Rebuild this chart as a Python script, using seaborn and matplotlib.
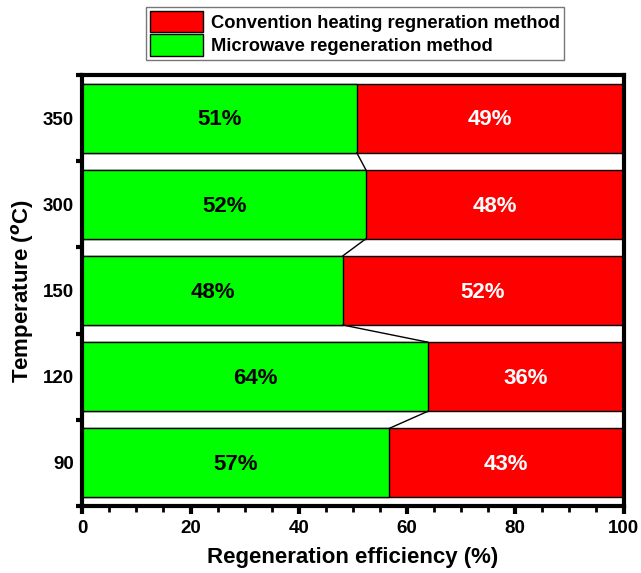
import matplotlib
matplotlib.use("Agg")
import matplotlib.pyplot as plt
import seaborn as sns
import pandas as pd
from matplotlib.patches import Patch
from matplotlib.ticker import MultipleLocator, FixedLocator

# ---- data ----
temperatures = ["350", "300", "150", "120", "90"]
microwave = [50.7, 52.4, 48.1, 63.9, 56.7]
convention = [100 - v for v in microwave]
totals = [100, 100, 100, 100, 100]

sns.set_theme(style="white")
plt.rcParams["font.family"] = ["Liberation Sans", "DejaVu Sans"]
plt.rcParams["font.weight"] = "bold"
plt.rcParams["text.color"] = "black"
plt.rcParams["axes.labelcolor"] = "black"
plt.rcParams["xtick.color"] = "black"
plt.rcParams["ytick.color"] = "black"
plt.rcParams["mathtext.fontset"] = "custom"
plt.rcParams["mathtext.rm"] = "Liberation Sans:bold"
plt.rcParams["mathtext.bf"] = "Liberation Sans:bold"

df = pd.DataFrame({"Temperature": temperatures, "Microwave": microwave,
                   "Convention": convention, "Total": totals})

fig = plt.figure(figsize=(6.41, 5.73), dpi=100)
ax = fig.add_axes([82.3 / 641, 1 - 506 / 573, (623.5 - 82.3) / 641, (506 - 75) / 573])

red = "#ff0000"
green = "#00ff00"
sns.barplot(data=df, x="Total", y="Temperature", order=temperatures, orient="h",
            color=red, saturation=1, edgecolor="black", linewidth=1.0, width=0.8, ax=ax)
sns.barplot(data=df, x="Microwave", y="Temperature", order=temperatures, orient="h",
            color=green, saturation=1, edgecolor="black", linewidth=1.0, width=0.8, ax=ax)

# connecting lines between stacked boundaries
for i in range(len(temperatures) - 1):
    ax.plot([microwave[i], microwave[i + 1]], [i + 0.4, i + 0.6],
            color="black", lw=1.0, zorder=3)

# value labels
for i, (g, r) in enumerate(zip(microwave, convention)):
    ax.text(g / 2, i + 0.02, f"{round(g)}%", ha="center", va="center",
            fontsize=16, fontweight="bold", color="black")
    ax.text(g + r / 2, i + 0.02, f"{round(r)}%", ha="center", va="center",
            fontsize=16, fontweight="bold", color="white")

ax.set_xlim(0, 100)
ax.set_ylim(len(temperatures) - 0.5, -0.5)

ax.xaxis.set_major_locator(MultipleLocator(20))
ax.xaxis.set_minor_locator(MultipleLocator(5))
ax.tick_params(axis="x", which="major", direction="out", length=6, width=3,
               labelsize=13.5, pad=4, bottom=True)
ax.tick_params(axis="x", which="minor", direction="out", length=4, width=2, bottom=True)

# y: labels at centres (no tick), tick marks at boundaries
ax.yaxis.set_major_locator(FixedLocator([i - 0.5 for i in range(len(temperatures) + 1)]))
ax.yaxis.set_minor_locator(FixedLocator(list(range(len(temperatures)))))
ax.set_yticklabels([""] * (len(temperatures) + 1))
ax.set_yticklabels(temperatures, minor=True)
ax.tick_params(axis="y", which="major", direction="out", length=4, width=3, left=True)
ax.tick_params(axis="y", which="minor", length=0, labelsize=13.5, pad=6)

for lab in ax.get_xticklabels() + ax.get_yticklabels(minor=True):
    lab.set_fontweight("bold")

for s in ax.spines.values():
    s.set_linewidth(3)
    s.set_color("black")

ax.set_xlabel("Regeneration efficiency (%)", fontsize=16, fontweight="bold", labelpad=7)
ax.set_ylabel(r"Temperature ($^{o}$C)", fontsize=16, fontweight="bold", labelpad=5)

handles = [Patch(facecolor=red, edgecolor="black", lw=1.0),
           Patch(facecolor=green, edgecolor="black", lw=1.0)]
labels = ["Convention heating regneration method", "Microwave regeneration method"]
leg = fig.legend(handles, labels, loc="upper left",
                 bbox_to_anchor=(146 / 641, 1 - 7 / 573), bbox_transform=fig.transFigure,
                 frameon=True, fancybox=False, edgecolor="#777777", framealpha=1,
                 prop={"weight": "bold", "size": 13.2},
                 handlelength=2.9, handleheight=1.42, labelspacing=0.1,
                 handletextpad=0.4, borderpad=0.22, borderaxespad=0)
leg.get_frame().set_linewidth(1.0)

fig.savefig("out.png", dpi=100)
